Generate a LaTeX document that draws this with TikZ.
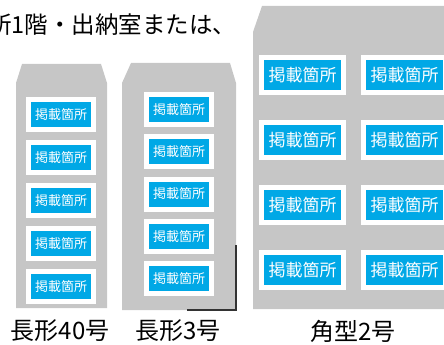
\documentclass[tikz,border=0pt]{standalone}
\usepackage{fontspec}
\setmainfont{Noto Sans CJK JP}
\definecolor{envgray}{RGB}{198,198,198}
\definecolor{keisai}{RGB}{0,168,230}
\tikzset{
  envelope/.style={fill=envgray, draw=none},
  tagsmall/.style={fill=keisai, draw=white, line width=5pt, text=white, inner sep=0pt,
    minimum width=65pt, minimum height=30pt, font=\fontsize{13}{14}\selectfont},
  taglarge/.style={fill=keisai, draw=white, line width=5pt, text=white, inner sep=0pt,
    minimum width=82pt, minimum height=35pt, font=\fontsize{17}{18}\selectfont},
  caption/.style={inner sep=0pt, font=\fontsize{24}{26}\selectfont}
}
\begin{document}
\begin{tikzpicture}[x=1pt, y=-1pt]
                \useasboundingbox (0,0) rectangle (444,345);
                \clip (0,0) rectangle (444,345);
                \node[inner sep=0pt, anchor=west, font=\fontsize{23.5}{26}\selectfont] (top) at (-12,25) {所1階・出納室または、}; % upper line
                % 長形40号
                \fill[envelope] (16,308)--(16,83)--(22,64)--(101,64)--(107,83)--(107,308)--cycle;
                \foreach \i in {1,...,5}{\node[tagsmall] (tagA\i) at (61,{114.5+43*(\i-1)}) {掲載箇所};}
                % 長形3号
                \fill[envelope] (122,310)--(122,83)--(131,63)--(230,63)--(236,83)--(236,310)--cycle;
                \draw[gray!40!black, line width=1.2pt] (236,245)--(236,310)--(187,310); % shadow
                \foreach \i in {1,...,5}{\node[tagsmall] (tagB\i) at (179,{109.5+42.25*(\i-1)}) {掲載箇所};}
                % 角型2号
                \fill[envelope] (253,309)--(253,32)--(262,6)--(450,6)--(450,309)--cycle;
                \foreach \i in {1,...,4}{
                    \node[taglarge] (tagC\i) at (302.5,{75+65*(\i-1)}) {掲載箇所};
                    \node[taglarge] (tagD\i) at (404.5,{75+65*(\i-1)}) {掲載箇所};
                }
                \node[caption] (capA) at (60,331) {長形40号};
                \node[caption] (capB) at (178,331) {長形3号};
                \node[caption] (capC) at (353,331) {角型2号};
            \end{tikzpicture}
\end{document}
